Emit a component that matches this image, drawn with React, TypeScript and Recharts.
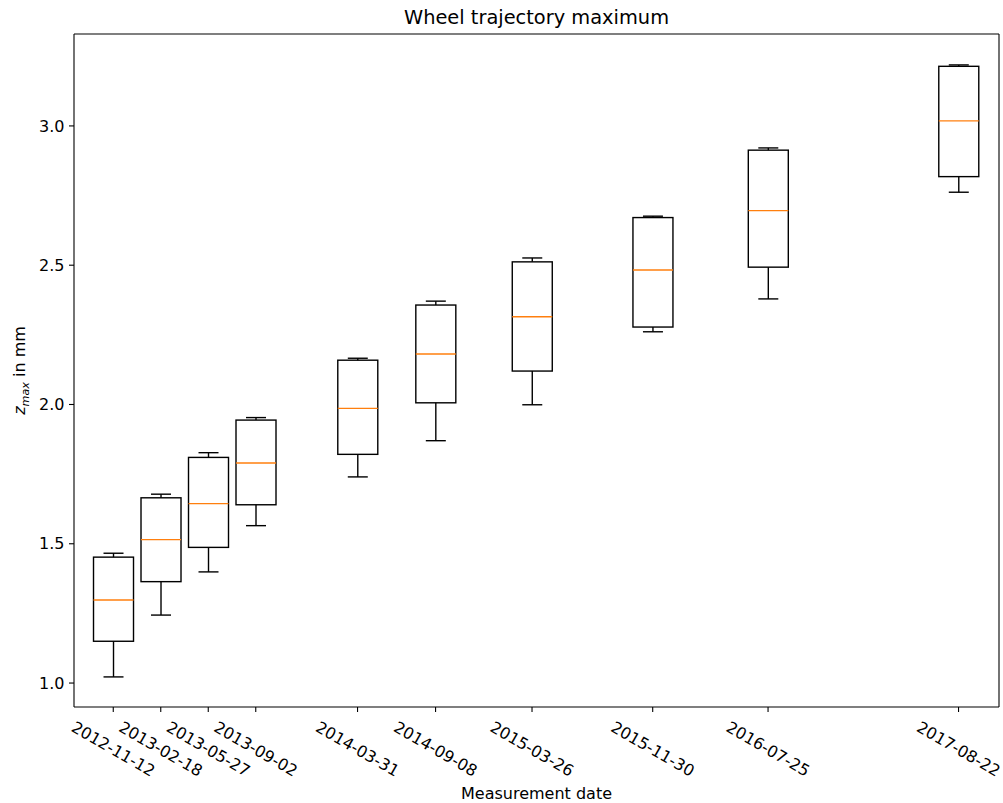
import { ComposedChart, Bar, XAxis, YAxis, ReferenceLine } from 'recharts';

// measurement campaigns and box statistics (z_max in mm)
const DATES = [
  '2012-11-12', '2013-02-18', '2013-05-27', '2013-09-02', '2014-03-31',
  '2014-09-08', '2015-03-26', '2015-11-30', '2016-07-25', '2017-08-22'
];
const WHISKER_LO = [1.022, 1.244, 1.399, 1.565, 1.740, 1.870, 1.999, 2.261, 2.379, 2.762];
const Q1 = [1.150, 1.364, 1.487, 1.640, 1.821, 2.006, 2.120, 2.278, 2.493, 2.818];
const MEDIAN = [1.298, 1.515, 1.644, 1.790, 1.986, 2.181, 2.315, 2.483, 2.696, 3.018];
const Q3 = [1.452, 1.665, 1.810, 1.944, 2.159, 2.357, 2.512, 2.671, 2.913, 3.214];
const WHISKER_HI = [1.466, 1.678, 1.827, 1.953, 2.166, 2.371, 2.526, 2.676, 2.921, 3.219];
const Y_TICKS = [1.0, 1.5, 2.0, 2.5, 3.0];

const FONT = '"DejaVu Sans", sans-serif';
const TICK_FONT = 16;

const toDay = (s: string) => {
  const [y, m, d] = s.split('-').map(Number);
  return Date.UTC(y, m - 1, d) / 86400000;
};
const DAYS = DATES.map(toDay);
const dayToLabel = (v: number) => new Date(v * 86400000).toISOString().slice(0, 10);

const data = DATES.map((date, i) => ({
  date,
  t: DAYS[i],
  lo: WHISKER_LO[i],
  q1: Q1[i],
  med: MEDIAN[i],
  q3: Q3[i],
  hi: WHISKER_HI[i]
}));

const X_DOMAIN = [DAYS[0] - 81, DAYS[DAYS.length - 1] + 83.5];
const Y_DOMAIN = [0.914, 3.33];

function BoxShape(props: any) {
  const { x, y, width, height, payload } = props;
  const top = Math.min(y, y + height);
  const h = Math.abs(height);
  const { lo, q1, med, q3, hi } = payload;
  const py = (v: number) => top + ((hi - v) / (hi - lo)) * h;
  const cx = x + width / 2;
  const cap = width / 4;
  const sw = 1.4;
  return (
    <g>
      <line x1={cx} x2={cx} y1={py(lo)} y2={py(q1)} stroke="#000" strokeWidth={sw} />
      <line x1={cx} x2={cx} y1={py(q3)} y2={py(hi)} stroke="#000" strokeWidth={sw} />
      <line x1={cx - cap} x2={cx + cap} y1={py(lo)} y2={py(lo)} stroke="#000" strokeWidth={sw} />
      <line x1={cx - cap} x2={cx + cap} y1={py(hi)} y2={py(hi)} stroke="#000" strokeWidth={sw} />
      <rect x={x} y={py(q3)} width={width} height={py(q1) - py(q3)} fill="none" stroke="#000" strokeWidth={sw} />
      <line x1={x} x2={x + width} y1={py(med)} y2={py(med)} stroke="#ff7f0e" strokeWidth={sw} />
    </g>
  );
}

function DateTick(props: any) {
  const { x, y, payload } = props;
  const cy = y + 37;
  return (
    <text
      x={x}
      y={cy}
      transform={`rotate(30, ${x}, ${cy})`}
      textAnchor="middle"
      dominantBaseline="central"
      fontFamily={FONT}
      fontSize={TICK_FONT}
      fill="#000"
    >
      {dayToLabel(payload.value)}
    </text>
  );
}

function YLabel(props: any) {
  const vb = props.viewBox || { x: 0, y: 34, width: 74, height: 673 };
  const lx = vb.x + 25;
  const ly = vb.y + vb.height / 2;
  return (
    <text
      x={lx}
      y={ly}
      transform={`rotate(-90, ${lx}, ${ly})`}
      textAnchor="middle"
      fontFamily={FONT}
      fontSize={TICK_FONT}
      fill="#000"
    >
      <tspan fontStyle="italic">z</tspan>
      <tspan fontStyle="italic" fontSize={11.2} dy={3.5}>max</tspan>
      <tspan dy={-3.5}> in mm</tspan>
    </text>
  );
}

export default function App() {
  return (
    <div style={{ position: 'absolute', left: 0, top: 0, width: 1003, height: 803, background: '#fff' }}>
      <div
        style={{
          position: 'absolute',
          left: 74,
          width: 925,
          top: 7,
          lineHeight: '22px',
          textAlign: 'center',
          fontFamily: FONT,
          fontSize: 19.4,
          color: '#000'
        }}
      >
        Wheel trajectory maximum
      </div>
      <ComposedChart
        width={1003}
        height={803}
        data={data}
        margin={{ top: 34, right: 4, bottom: 0, left: 0 }}
      >
        <XAxis
          dataKey="t"
          type="number"
          domain={X_DOMAIN}
          allowDataOverflow
          ticks={DAYS}
          interval={0}
          height={96}
          tick={<DateTick />}
          tickSize={5}
          tickMargin={0}
          axisLine={{ stroke: '#000', strokeWidth: 1.1 }}
          tickLine={{ stroke: '#000', strokeWidth: 1.1 }}
          label={{
            value: 'Measurement date',
            position: 'insideBottom',
            offset: 4,
            fontFamily: FONT,
            fontSize: TICK_FONT,
            fill: '#000'
          }}
        />
        <YAxis
          type="number"
          domain={Y_DOMAIN}
          allowDataOverflow
          ticks={Y_TICKS}
          interval={0}
          width={74}
          tickFormatter={(v: number) => v.toFixed(1)}
          tickSize={5}
          tickMargin={4.5}
          tick={{ fontFamily: FONT, fontSize: TICK_FONT, fill: '#000' }}
          axisLine={{ stroke: '#000', strokeWidth: 1.1 }}
          tickLine={{ stroke: '#000', strokeWidth: 1.1 }}
          label={<YLabel />}
        />
        {/* top and right spines */}
        <ReferenceLine y={Y_DOMAIN[1]} stroke="#000" strokeWidth={1.1} ifOverflow="extendDomain" />
        <ReferenceLine x={X_DOMAIN[1]} stroke="#000" strokeWidth={1.1} ifOverflow="extendDomain" />
        <Bar
          dataKey={(d: any) => [d.lo, d.hi]}
          barSize={40}
          shape={<BoxShape />}
          isAnimationActive={false}
        />
      </ComposedChart>
    </div>
  );
}
